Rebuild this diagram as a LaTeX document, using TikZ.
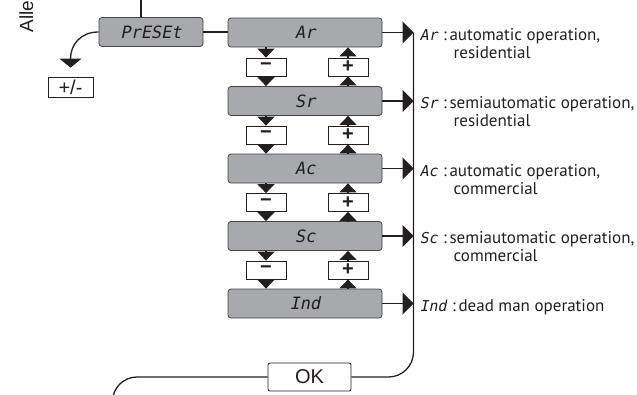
\documentclass[tikz,border=0pt]{standalone}
\usepackage{fontspec}
\setmainfont{PT Sans}
\newfontfamily\arialfont{Liberation Sans}
\newfontfamily\segfont[FakeSlant=0.2]{DejaVu Sans Mono}
\usetikzlibrary{arrows.meta}
\definecolor{dispgray}{RGB}{167,169,172}
\definecolor{ink}{RGB}{35,31,32}

\begin{document}
\begin{tikzpicture}[x=1pt,y=-1pt,>={Triangle[length=11pt,width=22pt]},
	line width=1.3pt, color=ink,
	disp/.style={draw=ink!85, line width=0.8pt, fill=dispgray, rounded corners=3pt,
		minimum height=29pt, inner sep=0pt, font=\segfont\fontsize{17}{17}\selectfont},
	key/.style={draw=ink, line width=0.8pt, fill=white, minimum width=40pt,
		minimum height=18pt, inner sep=0pt, font=\arialfont\bfseries\fontsize{20}{20}\selectfont},
	tri/.style={-{Triangle[length=9pt,width=17pt]}},
	seg/.style={anchor=base west, inner sep=0pt, font=\segfont\fontsize{15}{15}\selectfont},
	lbl/.style={anchor=base west, inner sep=0pt, font=\fontsize{17}{18}\selectfont}]
	\useasboundingbox (0,0) rectangle (637,394);

	% display boxes
	\node[disp, minimum width=104pt] (PRESET) at (151,32) {PrESEt};
	\node[disp, minimum width=154pt] (Ar) at (305,32.5) {Ar};
	\node[disp, minimum width=154pt] (Sr) at (305,101) {Sr};
	\node[disp, minimum width=154pt] (Ac) at (305,168.5) {Ac};
	\node[disp, minimum width=154pt] (Sc) at (305,236) {Sc};
	\node[disp, minimum width=154pt] (Ind) at (305,303.5) {Ind};

	% keys
	\node[key] (m1) at (266,67) {−};
	\node[key] (p1) at (348,67) {+};
	\node[key] (m2) at (266,135) {−};
	\node[key] (p2) at (348,135) {+};
	\node[key] (m3) at (266,202.5) {−};
	\node[key] (p3) at (348,202.5) {+};
	\node[key] (m4) at (266,270) {−};
	\node[key] (p4) at (348,270) {+};
	\node[key, minimum width=45pt, minimum height=20pt,
		font=\arialfont\fontsize{20}{20}\selectfont] (pm) at (70.5,87) {+/-};
	\node[key, rounded corners=2pt, minimum width=83pt, minimum height=28pt,
		font=\arialfont\fontsize{20}{20}\selectfont] (OK) at (309.5,377) {OK};

	\node[rotate=90, anchor=base west, inner sep=0pt,
		font=\arialfont\fontsize{19}{19}\selectfont] (alle) at (33,33) {Alle};

	\coordinate (entry) at (141,-10);
	\coordinate (busx) at (413.5,0);
	\coordinate (exit) at (112.5,430);

	% scrolling with - and +
	\foreach \a/\b/\n in {Ar/Sr/1,Sr/Ac/2,Ac/Sc/3,Sc/Ind/4}{
		\draw[tri] (\a.south -| m\n) -- (m\n.north);
		\draw[tri] (m\n.south) -- (\b.north -| m\n);
		\draw[tri] (\b.north -| p\n) -- (p\n.south);
		\draw[tri] (p\n.north) -- (\a.south -| p\n);
	}

	\draw (entry) -- (entry |- PRESET.north);
	\draw (PRESET.east) -- (PRESET.east -| Ar.west);
	\draw[-{Triangle[length=9pt,width=22pt]}, shorten >=9pt] (PRESET.west) .. controls +(-18,0) and +(0,-32) .. (pm.north);

	\foreach \r in {Ar,Sr,Ac,Sc,Ind}
		\draw[->] (\r.east) -- (\r.east -| busx);
	\draw[rounded corners=25pt] (busx |- Ar.east) |- (OK.east);
	\draw[rounded corners=24.5pt] (OK.west) -| (exit);

	% meaning of the settings
	\node[seg] (gAr) at (419,40) {Ar};
	\node[lbl] (tAr) at ([xshift=4pt]gAr.base east) {:\,automatic operation,};
	\node[lbl] (uAr) at (453,58) {residential};
	\node[seg] (gSr) at (419,108.5) {Sr};
	\node[lbl] (tSr) at ([xshift=4pt]gSr.base east) {:\,semiautomatic operation,};
	\node[lbl] (uSr) at (453,126.5) {residential};
	\node[seg] (gAc) at (419,176) {Ac};
	\node[lbl] (tAc) at ([xshift=4pt]gAc.base east) {:\,automatic operation,};
	\node[lbl] (uAc) at (453,194) {commercial};
	\node[seg] (gSc) at (419,243.5) {Sc};
	\node[lbl] (tSc) at ([xshift=4pt]gSc.base east) {:\,semiautomatic operation,};
	\node[lbl] (uSc) at (453,261.5) {commercial};
	\node[seg] (gInd) at (419,311) {Ind};
	\node[lbl] (tInd) at ([xshift=4pt]gInd.base east) {:\,dead man operation};
\end{tikzpicture}
\end{document}
